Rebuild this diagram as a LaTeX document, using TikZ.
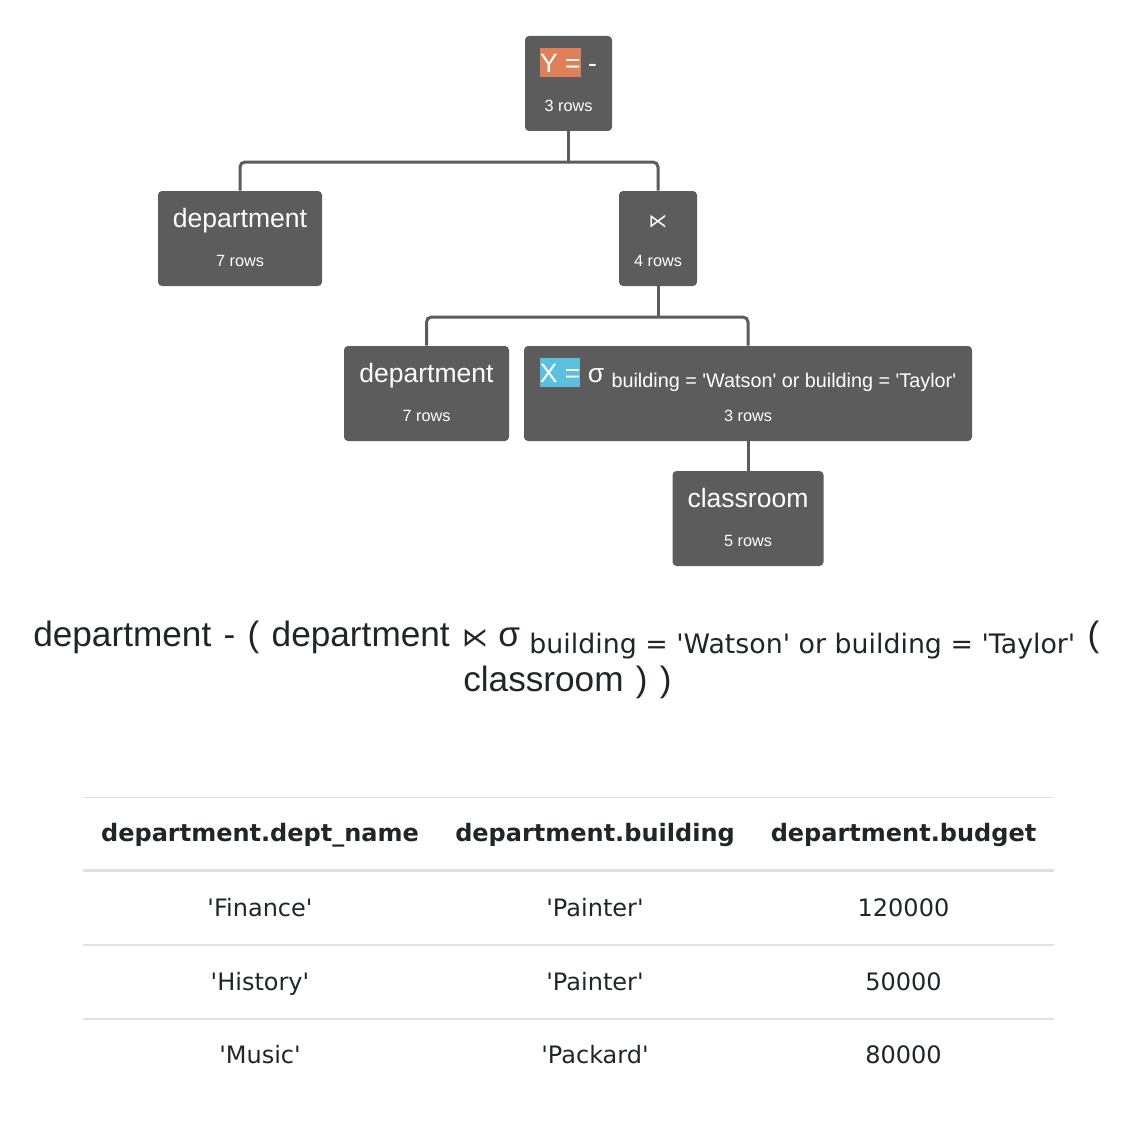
\documentclass[tikz,border=0pt]{standalone}
\usepackage{fontspec}
\newfontfamily\libsans{Liberation Sans}
\newfontfamily\dejavu{DejaVu Sans}
\definecolor{opgray}{HTML}{5C5C5C}
\definecolor{ycol}{HTML}{E08058}
\definecolor{xcol}{HTML}{5BC0DE}
\definecolor{ink}{HTML}{212529}
\definecolor{rulegray}{HTML}{DEE2E6}
\newdimen\px \px=0.75pt
\newcommand\hl[2]{{\fboxsep=0pt\colorbox{#1}{\rule[-0.17em]{0pt}{1.08em}#2}}}
\newcommand\exprfont{\libsans\fontsize{26.4}{32}\selectfont\spaceskip=0.35em plus 0.1em\relax}

\begin{document}
\begin{tikzpicture}[x=0.75pt,y=-0.75pt,
    opbox/.style={fill=opgray,rounded corners=4\px,minimum height=95\px,inner sep=0pt},
    oplabel/.style={anchor=base,text=white,inner sep=0pt,font=\libsans\fontsize{19.9}{24}\selectfont},
    rowcount/.style={anchor=base,text=white,inner sep=0pt,font=\libsans\fontsize{12.2}{15}\selectfont},
    edge/.style={draw=opgray,line width=3\px,rounded corners=5\px},
    expr/.style={text=ink,inner sep=0pt,font=\exprfont},
    hcell/.style={anchor=base,text=ink,inner sep=0pt,font=\dejavu\bfseries\fontsize{18}{22}\selectfont},
    cell/.style={anchor=base,text=ink,inner sep=0pt,font=\dejavu\fontsize{18}{22}\selectfont},
    rowline/.style={draw=rulegray,line width=1.5\px}]
  \useasboundingbox (0,0) rectangle (1143,1124);

  % tree
  \node[opbox,minimum width=87\px]  (top)   at (568.5,83.5)  {};
  \node[opbox,minimum width=164\px] (dept1) at (240,238.5)   {};
  \node[opbox,minimum width=78\px]  (semi)  at (658,238.5)   {};
  \node[opbox,minimum width=165\px] (dept2) at (426.5,393.5) {};
  \node[opbox,minimum width=448\px] (sel)   at (748,393.5)   {};
  \node[opbox,minimum width=151\px] (room)  at (748,518.5)   {};

  \node[oplabel] (top-l)   at ([yshift=-36.3\px]top.north)   {\hl{ycol}{Y =} -};
  \node[oplabel] (dept1-l) at ([yshift=-36.3\px]dept1.north) {department};
  \node[oplabel] (semi-l)  at ([yshift=-36.3\px]semi.north)  {\dejavu\fontsize{14}{17}\selectfont ⋉};
  \node[oplabel] (dept2-l) at ([yshift=-36.3\px]dept2.north) {department};
  \node[oplabel] (sel-l)   at ([yshift=-36.3\px]sel.north)
    {\hl{xcol}{X =} σ \raisebox{-5\px}{\fontsize{14.85}{18}\selectfont building = 'Watson' or building = 'Taylor'}};
  \node[oplabel] (room-l)  at ([yshift=-36.3\px]room.north)  {classroom};

  \node[rowcount] (top-r)   at ([yshift=-75.7\px]top.north)   {3 rows};
  \node[rowcount] (dept1-r) at ([yshift=-75.7\px]dept1.north) {7 rows};
  \node[rowcount] (semi-r)  at ([yshift=-75.7\px]semi.north)  {4 rows};
  \node[rowcount] (dept2-r) at ([yshift=-75.7\px]dept2.north) {7 rows};
  \node[rowcount] (sel-r)   at ([yshift=-75.7\px]sel.north)   {3 rows};
  \node[rowcount] (room-r)  at ([yshift=-75.7\px]room.north)  {5 rows};

  \coordinate (j1) at (568.5,162);
  \coordinate (j2) at (658,317);
  \draw[edge] (top.south) -- (j1);
  \draw[edge] (dept1.north) |- (j1) -| (semi.north);
  \draw[edge] (semi.south) -- (j2);
  \draw[edge] (dept2.north) |- (j2) -| (sel.north);
  \draw[edge] (sel.south) -- (room.north);

  % expression
  \node[expr,anchor=base west] (expr1) at (33,646)
    {department - ( department {\dejavu\fontsize{19.5}{24}\selectfont ⋉}\hspace{-2\px} σ\hspace{-3\px}
     \raisebox{-7\px}{\dejavu\fontsize{20.1}{24}\selectfont\spaceskip=0pt building = 'Watson' or building = 'Taylor'} (};
  \node[expr,anchor=base] (expr2) at (567.5,691) {classroom ) )};

  % result table
  \draw[rowline,line width=1\px] (83,797) -- (1054,797);
  \draw[rowline,line width=2.5\px] (83,870.5) -- (1054,870.5);
  \draw[rowline] (83,945) -- (1054,945);
  \draw[rowline] (83,1019) -- (1054,1019);

  \node[hcell] (h1) at (260,841)   {department.dept\_name};
  \node[hcell] (h2) at (595,841)   {department.building};
  \node[hcell] (h3) at (903.5,841) {department.budget};

  \foreach \y/\a/\b/\c [count=\i] in {916/'Finance'/'Painter'/120000,
      990/'History'/'Painter'/50000, 1063/'Music'/'Packard'/80000} {
    \node[cell] (c\i-1) at (260,\y) {\a};
    \node[cell] (c\i-2) at (595,\y) {\b};
    \node[cell] (c\i-3) at (903.5,\y) {\c};
  }
\end{tikzpicture}
\end{document}
